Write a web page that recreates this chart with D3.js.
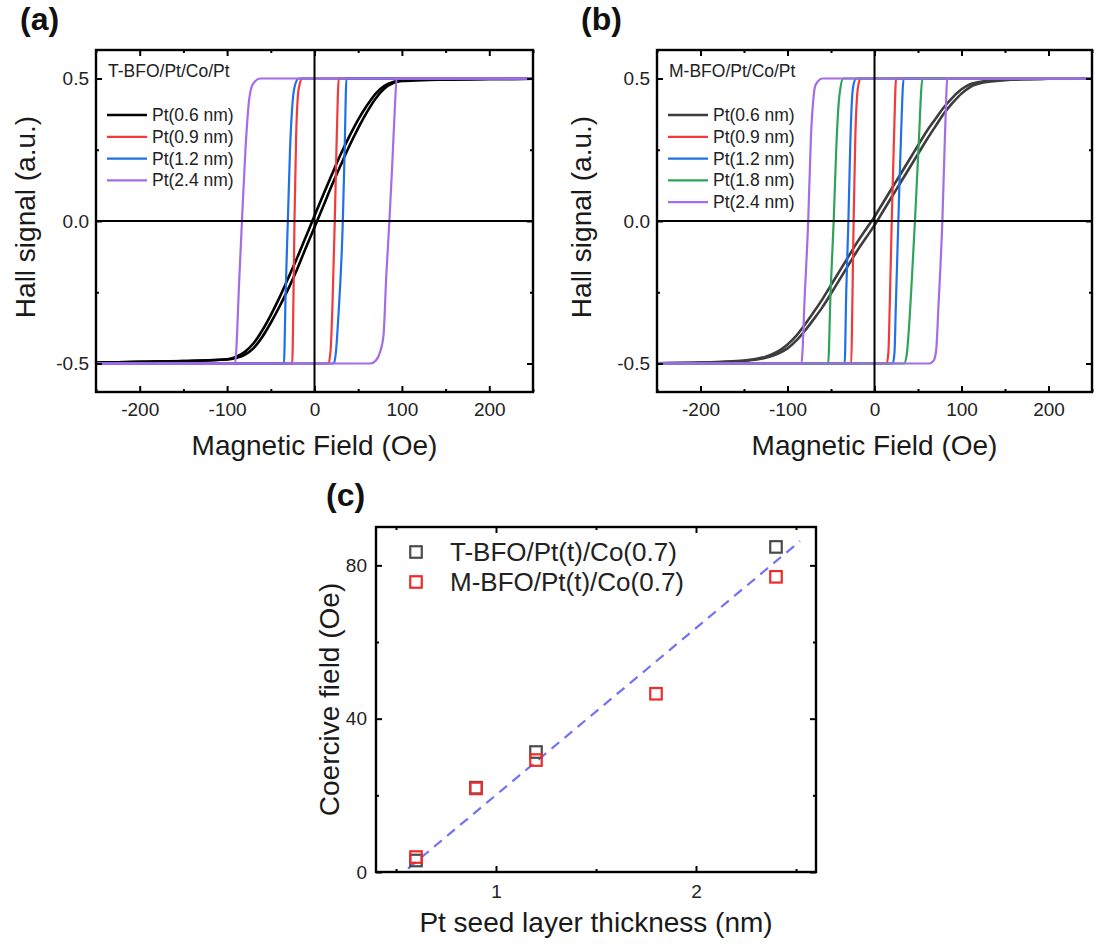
<!DOCTYPE html>
<html><head><meta charset="utf-8">
<script src="https://cdn.jsdelivr.net/npm/d3@7"></script>
<style>body{margin:0;background:#fff}</style>
</head><body><svg id="c" width="1096" height="946"></svg>
<script>
// ---------------- DATA ----------------
const fieldTicks = [-200, -100, 0, 100, 200];
const fieldMinorTicks = [-250, -150, -50, 50, 150, 250];
const hallTicks = [-0.5, 0, 0.5];
const hallMinorTicks = [-0.25, 0.25];
const thicknessTicks = [1, 2];
const thicknessMinorTicks = [0.5, 1.5, 2.5];
const coerciveTicks = [0, 40, 80];
const coerciveMinorTicks = [20, 60];

const labelsA = ["Pt(0.6 nm)", "Pt(0.9 nm)", "Pt(1.2 nm)", "Pt(2.4 nm)"];
const labelsB = ["Pt(0.6 nm)", "Pt(0.9 nm)", "Pt(1.2 nm)", "Pt(1.8 nm)", "Pt(2.4 nm)"];

// Panel (a): branches [H (Oe), Hall signal]
const a06Up = [[-250,-0.497],[-200,-0.494],[-150,-0.491],[-100,-0.486],[-90,-0.481],[-80,-0.47],[-70,-0.447],[-60,-0.408],[-50,-0.357],[-40,-0.3],[-30,-0.238],[-20,-0.17],[-10,-0.095],[0,-0.022],[10,0.052],[20,0.126],[30,0.196],[40,0.264],[50,0.326],[60,0.382],[70,0.43],[80,0.465],[90,0.484],[100,0.491],[120,0.494],[150,0.496],[200,0.498],[250,0.499]];
const a06Down = [[-250,-0.497],[-200,-0.494],[-150,-0.491],[-100,-0.485],[-90,-0.477],[-80,-0.46],[-70,-0.43],[-60,-0.385],[-50,-0.33],[-40,-0.268],[-30,-0.2],[-20,-0.13],[-10,-0.056],[0,0.018],[10,0.092],[20,0.164],[30,0.234],[40,0.298],[50,0.356],[60,0.405],[70,0.447],[80,0.474],[90,0.488],[100,0.493],[120,0.495],[150,0.497],[200,0.498],[250,0.499]];
const a09Up = [[-250,-0.5],[16,-0.5],[18.5,-0.45],[20.5,-0.3],[23.2,0],[25.5,0.3],[27.8,0.5],[250,0.5]];
const a09Down = [[-250,-0.5],[-25.5,-0.5],[-24,-0.25],[-22.9,0],[-21,0.3],[-19,0.44],[-17,0.48],[-14,0.5],[250,0.5]];
const a12Up = [[-250,-0.5],[22,-0.5],[24.5,-0.46],[27,-0.35],[32.4,0],[34.5,0.25],[36.6,0.5],[250,0.5]];
const a12Down = [[-250,-0.5],[-35,-0.5],[-33,-0.25],[-30.5,0],[-28,0.25],[-25,0.42],[-22,0.48],[-18,0.5],[250,0.5]];
const a24Up = [[-250,-0.5],[64,-0.5],[70,-0.49],[75,-0.46],[79,-0.4],[82,-0.2],[85.7,0],[89,0.2],[92,0.4],[94,0.5],[250,0.5]];
const a24Down = [[-250,-0.5],[-91,-0.5],[-86,-0.2],[-83,0],[-79,0.25],[-75,0.42],[-72,0.47],[-68,0.49],[-62,0.5],[250,0.5]];

// Panel (b)
const b06Up = [[-250,-0.499],[-200,-0.497],[-150,-0.491],[-125,-0.48],[-110,-0.464],[-100,-0.447],[-90,-0.42],[-80,-0.385],[-70,-0.345],[-60,-0.303],[-50,-0.255],[-40,-0.205],[-30,-0.155],[-20,-0.105],[-10,-0.06],[0,-0.015],[10,0.035],[20,0.085],[30,0.135],[40,0.185],[50,0.235],[60,0.285],[70,0.332],[80,0.378],[90,0.415],[100,0.447],[110,0.47],[125,0.486],[150,0.494],[200,0.499],[250,0.5]];
const b06Down = [[-250,-0.499],[-200,-0.497],[-150,-0.49],[-125,-0.476],[-110,-0.456],[-100,-0.433],[-90,-0.403],[-80,-0.363],[-70,-0.32],[-60,-0.275],[-50,-0.225],[-40,-0.175],[-30,-0.125],[-20,-0.075],[-10,-0.03],[0,0.015],[10,0.065],[20,0.115],[30,0.165],[40,0.215],[50,0.265],[60,0.315],[70,0.358],[80,0.4],[90,0.434],[100,0.462],[110,0.48],[125,0.49],[150,0.496],[200,0.499],[250,0.5]];
const b09Up = [[-250,-0.5],[14,-0.5],[16,-0.46],[17.5,-0.3],[19.8,0],[22.5,0.3],[24.8,0.5],[250,0.5]];
const b09Down = [[-250,-0.5],[-26.7,-0.5],[-25.5,-0.3],[-24,0],[-22,0.3],[-20,0.44],[-18,0.485],[-16,0.5],[250,0.5]];
const b12Up = [[-250,-0.5],[21,-0.5],[23,-0.46],[24.5,-0.3],[27.4,0],[30.5,0.3],[33.5,0.5],[250,0.5]];
const b12Down = [[-250,-0.5],[-34.3,-0.5],[-32.5,-0.25],[-30,0],[-28,0.25],[-26,0.42],[-24,0.48],[-21,0.5],[250,0.5]];
const b18Up = [[-250,-0.5],[34,-0.5],[37,-0.47],[39.5,-0.38],[43,-0.2],[46.5,0],[50.5,0.25],[55.2,0.5],[250,0.5]];
const b18Down = [[-250,-0.5],[-53.3,-0.5],[-50.5,-0.25],[-46.9,0],[-44,0.25],[-41,0.42],[-39,0.47],[-36,0.5],[250,0.5]];
const b24Up = [[-250,-0.5],[63,-0.5],[68,-0.49],[71,-0.45],[73.5,-0.3],[78,0],[81,0.3],[83.8,0.5],[250,0.5]];
const b24Down = [[-250,-0.5],[-84,-0.5],[-80,-0.25],[-76.2,0],[-73,0.3],[-70.5,0.42],[-68.5,0.47],[-65,0.49],[-60,0.5],[250,0.5]];

// Panel (c)
const thicknessT = [0.6, 0.9, 1.2, 2.4];
const coerciveT = [3, 22, 31.3, 84.8];
const thicknessM = [0.6, 0.9, 1.2, 1.8, 2.4];
const coerciveM = [3.9, 21.8, 29.2, 46.5, 77];
const fitLine = [[0.56, 0.9], [2.52, 86.3]];
const legendC = ["T-BFO/Pt(t)/Co(0.7)", "M-BFO/Pt(t)/Co(0.7)"];

// ---------------- STYLE ----------------
const FONT = "'Liberation Sans', Arial, Helvetica, sans-serif";
const colorsA = ["#000000", "#f23a3a", "#2070e8", "#a46ce6"];
const colorsB = ["#3d3d3d", "#f23a3a", "#2070e8", "#2ea45a", "#a46ce6"];
const svg = d3.select("#c").style("font-family", FONT);

function frameAxes(g, x, y, w, h, o) {
  const style = sel => {
    sel.select(".domain").remove();
    sel.selectAll(".tick line").attr("stroke", "#000").attr("stroke-width", 2);
    sel.selectAll(".tick text").attr("fill", "#222").style("font-size", o.fs + "px").style("font-family", FONT);
  };
  g.append("g").attr("transform", `translate(0,${h})`)
    .call(d3.axisBottom(x).tickValues(o.xMajor).tickSize(-6).tickPadding(o.xPad).tickFormat(o.fx)).call(style);
  g.append("g").attr("transform", `translate(0,${h})`)
    .call(d3.axisBottom(x).tickValues(o.xMinor).tickSize(-3).tickFormat("")).call(style);
  g.append("g").call(d3.axisTop(x).tickValues(o.xMajor).tickSize(-6).tickFormat("")).call(style);
  g.append("g").call(d3.axisTop(x).tickValues(o.xMinor).tickSize(-3).tickFormat("")).call(style);
  g.append("g").call(d3.axisLeft(y).tickValues(o.yMajor).tickSize(-6).tickPadding(o.yPad).tickFormat(o.fy)).call(style);
  g.append("g").call(d3.axisLeft(y).tickValues(o.yMinor).tickSize(-3).tickFormat("")).call(style);
  g.append("g").attr("transform", `translate(${w},0)`).call(d3.axisRight(y).tickValues(o.yMajor).tickSize(-6).tickFormat("")).call(style);
  g.append("g").attr("transform", `translate(${w},0)`).call(d3.axisRight(y).tickValues(o.yMinor).tickSize(-3).tickFormat("")).call(style);
  g.append("rect").attr("width", w).attr("height", h).attr("fill", "none").attr("stroke", "#000").attr("stroke-width", 2.4);
}

function loopPanel(box, ups, downs, labels, colors, title, tag, ytitleX) {
  const w = box.r - box.l, h = box.b - box.t;
  const x = d3.scaleLinear().domain([-250, 250]).range([0, w]);
  const y = d3.scaleLinear().domain([-0.6, 0.6]).range([h, 0]);
  const g = svg.append("g").attr("transform", `translate(${box.l},${box.t})`);
  const line = d3.line().x(d => x(d[0])).y(d => y(d[1])).curve(d3.curveMonotoneX);
  ups.forEach((u, i) => {
    const sw = i === 0 ? 2.6 : 2.2;
    g.append("path").attr("d", line(u)).attr("fill", "none").attr("stroke", colors[i]).attr("stroke-width", sw);
    g.append("path").attr("d", line(downs[i])).attr("fill", "none").attr("stroke", colors[i]).attr("stroke-width", sw);
  });
  g.append("line").attr("x1", x(0)).attr("x2", x(0)).attr("y1", 0).attr("y2", h).attr("stroke", "#000").attr("stroke-width", 2);
  g.append("line").attr("x1", 0).attr("x2", w).attr("y1", y(0)).attr("y2", y(0)).attr("stroke", "#000").attr("stroke-width", 2);
  frameAxes(g, x, y, w, h, {xMajor: fieldTicks, xMinor: fieldMinorTicks, yMajor: hallTicks, yMinor: hallMinorTicks,
    fx: d => String(d), fy: d => d.toFixed(1), fs: 19, xPad: 11, yPad: 7});
  // legend
  g.append("text").attr("x", 12).attr("y", 27).attr("font-size", 17.5).attr("fill", "#222").text(title);
  labels.forEach((lab, i) => {
    const ly = 65 + i * 21.8;
    g.append("line").attr("x1", 11).attr("x2", 51).attr("y1", ly).attr("y2", ly)
      .attr("stroke", colors[i]).attr("stroke-width", i === 0 ? 2.6 : 2.2);
    g.append("text").attr("x", 56).attr("y", ly + 6).attr("font-size", 17.5).attr("fill", "#222").text(lab);
  });
  // titles
  svg.append("text").attr("x", (box.l + box.r) / 2).attr("y", 455).attr("text-anchor", "middle")
    .attr("font-size", 28).attr("fill", "#1a1a1a").text("Magnetic Field (Oe)");
  svg.append("text").attr("transform", `translate(${ytitleX},${(box.t + box.b) / 2 - 4}) rotate(-90)`)
    .attr("text-anchor", "middle").attr("dy", "0.35em").attr("font-size", 28).attr("fill", "#1a1a1a").text("Hall signal (a.u.)");
  svg.append("text").attr("x", box.l - 76).attr("y", 30).attr("font-size", 32).attr("font-weight", "bold").attr("fill", "#111").text(tag);
}

loopPanel({l: 96, r: 533, t: 50, b: 392}, [a06Up, a09Up, a12Up, a24Up], [a06Down, a09Down, a12Down, a24Down],
  labelsA, colorsA, "T-BFO/Pt/Co/Pt", "(a)", 25);
loopPanel({l: 657, r: 1092, t: 50, b: 392}, [b06Up, b09Up, b12Up, b18Up, b24Up], [b06Down, b09Down, b12Down, b18Down, b24Down],
  labelsB, colorsB, "M-BFO/Pt/Co/Pt", "(b)", 581);

// ---------------- Panel (c) ----------------
(function () {
  const box = {l: 376, r: 816, t: 527, b: 872};
  const w = box.r - box.l, h = box.b - box.t;
  const x = d3.scaleLinear().domain([0.4, 2.6]).range([0, w]);
  const y = d3.scaleLinear().domain([0, 90]).range([h, 0]);
  const g = svg.append("g").attr("transform", `translate(${box.l},${box.t})`);
  g.append("path").attr("d", d3.line().x(d => x(d[0])).y(d => y(d[1]))(fitLine))
    .attr("stroke", "#7272f2").attr("stroke-width", 2.2).attr("stroke-dasharray", "10,7").attr("fill", "none");
  const sq = 11.5;
  g.selectAll(".t").data(thicknessT).enter().append("rect")
    .attr("x", (d) => x(d) - sq / 2).attr("y", (d, i) => y(coerciveT[i]) - sq / 2)
    .attr("width", sq).attr("height", sq).attr("fill", "none").attr("stroke", "#4a4a4a").attr("stroke-width", 2.2);
  g.selectAll(".m").data(thicknessM).enter().append("rect")
    .attr("x", (d) => x(d) - sq / 2).attr("y", (d, i) => y(coerciveM[i]) - sq / 2)
    .attr("width", sq).attr("height", sq).attr("fill", "none").attr("stroke", "#ee2b2b").attr("stroke-width", 2.2);
  frameAxes(g, x, y, w, h, {xMajor: thicknessTicks, xMinor: thicknessMinorTicks, yMajor: coerciveTicks, yMinor: coerciveMinorTicks,
    fx: d => String(d), fy: d => String(d), fs: 19, xPad: 13, yPad: 9});
  const legColors = ["#4a4a4a", "#ee2b2b"];
  legendC.forEach((lab, i) => {
    const ly = 25 + i * 30;
    g.append("rect").attr("x", 40 - sq / 2).attr("y", ly - sq / 2).attr("width", sq).attr("height", sq)
      .attr("fill", "none").attr("stroke", legColors[i]).attr("stroke-width", 2.2);
    g.append("text").attr("x", 74).attr("y", ly + 9).attr("font-size", 26).attr("fill", "#222").text(lab);
  });
  svg.append("text").attr("x", (box.l + box.r) / 2).attr("y", 932).attr("text-anchor", "middle")
    .attr("font-size", 28).attr("fill", "#1a1a1a").text("Pt seed layer thickness (nm)");
  svg.append("text").attr("transform", `translate(329,${(box.t + box.b) / 2}) rotate(-90)`)
    .attr("text-anchor", "middle").attr("dy", "0.35em").attr("font-size", 28).attr("fill", "#1a1a1a").text("Coercive field (Oe)");
  svg.append("text").attr("x", 326).attr("y", 506).attr("font-size", 32).attr("font-weight", "bold").attr("fill", "#111").text("(c)");
})();
</script></body></html>
